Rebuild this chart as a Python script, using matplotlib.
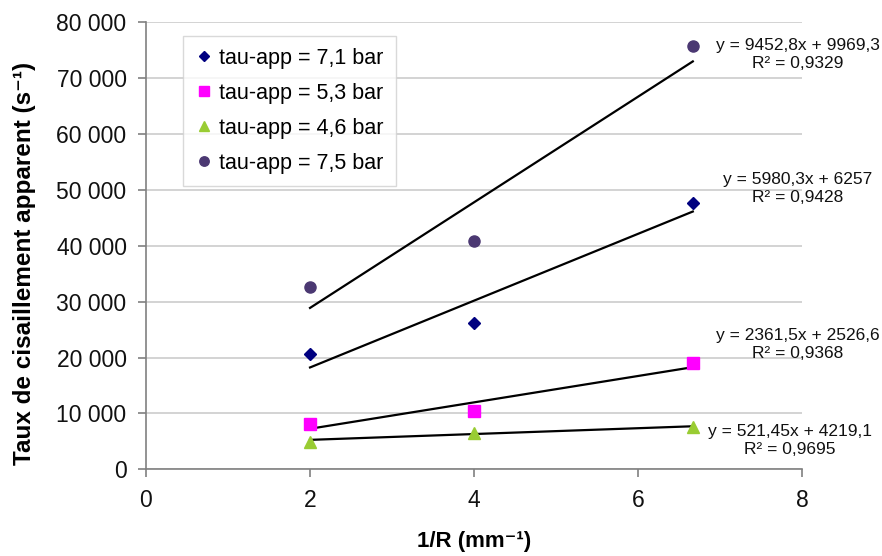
import matplotlib.pyplot as plt
import numpy as np

plt.rcParams['font.family'] = ['Liberation Sans', 'DejaVu Sans']

# data
x = [2, 4, 20 / 3]
y_71 = [20600, 26200, 47700]
y_53 = [8150, 10400, 18950]
y_46 = [4950, 6450, 7500]
y_75 = [32700, 40900, 75700]

labels = ['tau-app = 7,1 bar', 'tau-app = 5,3 bar', 'tau-app = 4,6 bar', 'tau-app = 7,5 bar']
# trend line coefficients (slope, intercept) and R² as printed
slopes = [5980.3, 2361.5, 521.45, 9452.8]
intercepts = [6257, 2526.6, 4219.1, 9969.3]
eq_texts = ['y = 5980,3x + 6257\nR² = 0,9428',
            'y = 2361,5x + 2526,6\nR² = 0,9368',
            'y = 521,45x + 4219,1\nR² = 0,9695',
            'y = 9452,8x + 9969,3\nR² = 0,9329']
eq_pos = [(7.95, 50300), (7.95, 22400), (7.85, 5200), (7.95, 74300)]

colors = ['#000080', '#FF00FF', '#99CC33', '#4B3872']
markers = ['D', 's', '^', 'o']
msizes = [6, 8, 8, 8]

fig = plt.figure(figsize=(8.82, 5.56), dpi=100)
ax = fig.add_axes([0.1655, 0.156, 0.744, 0.804])

series = [y_71, y_53, y_46, y_75]
xs = np.array([x[0], x[-1]])
for ys, lab, c, m, ms, a, b in zip(series, labels, colors, markers, msizes, slopes, intercepts):
    ax.plot(x, ys, linestyle='none', marker=m, color=c, markersize=ms, label=lab, zorder=3)
    ax.plot(xs, a * xs + b, color='black', lw=1.6, zorder=2)

for txt, (tx, ty) in zip(eq_texts, eq_pos):
    ax.text(tx, ty, txt, ha='center', va='center', fontsize=12.5, multialignment='center',
            linespacing=1.25, clip_on=False, color='#111111')

ax.set_xlim(0, 8)
ax.set_ylim(0, 80000)
ax.set_xticks(range(0, 9, 2))
ax.set_yticks(range(0, 80001, 10000))
ax.set_yticklabels(['0'] + ['{} 000'.format(v // 1000) for v in range(10000, 80001, 10000)])
ax.tick_params(labelsize=16.5, colors='#808080', labelcolor='#111111', length=6, width=1.2, pad=8)

ax.yaxis.grid(True, color='#c8c8c8', lw=1.1)
ax.set_axisbelow(True)
for s in ['top', 'right']:
    ax.spines[s].set_visible(False)
for s in ['left', 'bottom']:
    ax.spines[s].set_color('#808080')
    ax.spines[s].set_linewidth(1.2)

ax.set_xlabel('1/R (mm⁻¹)', fontsize=16, fontweight='bold', labelpad=14)
ax.set_ylabel('Taux de cisaillement apparent (s⁻¹)', fontsize=17.5, fontweight='bold')
ax.yaxis.set_label_coords(-0.168, 0.46)

leg = ax.legend(loc='upper left', bbox_to_anchor=(0.056, 0.969), fontsize=15.5, frameon=True,
                fancybox=False, handletextpad=0.25, handlelength=0.9, borderpad=0.55,
                labelspacing=0.65, borderaxespad=0, markerscale=0.85)
leg.get_frame().set_edgecolor('#d0d0d0')
leg.get_frame().set_linewidth(1.0)

fig.savefig('out.png', dpi=100)
